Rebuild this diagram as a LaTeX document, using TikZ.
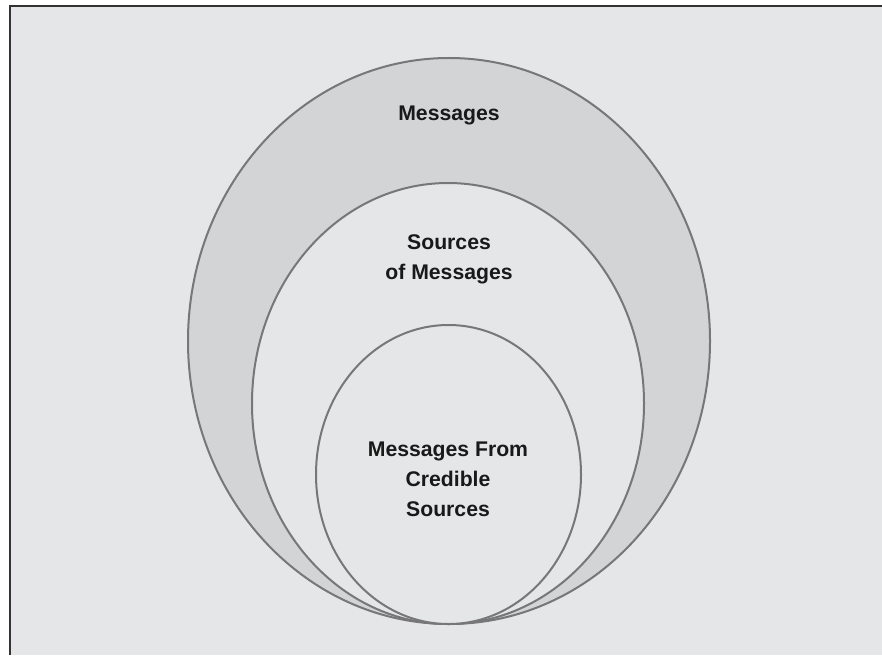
\documentclass[tikz,border=0pt]{standalone}
\usepackage{fontspec}
\setmainfont{Liberation Sans}
\definecolor{bg}{HTML}{E5E6E8}
\definecolor{ring}{HTML}{D3D4D6}
\definecolor{edge}{HTML}{777777}
\definecolor{frame}{HTML}{333333}
\tikzset{
  setring/.style={draw=edge, line width=2pt},
  lbl/.style={font=\bfseries\fontsize{21.2}{30}\selectfont, align=center, text=black!90, inner sep=0pt}
}
\begin{document}
\begin{tikzpicture}[x=1pt,y=-1pt]
\useasboundingbox (0,0) rectangle (882,655);
\fill[white] (0,0) rectangle (882,655);
\fill[bg] (9,6) rectangle (882,655);
\draw[frame, line width=2pt] (9.5,655) -- (9.5,6.5) -- (882,6.5);
% outer set
\path[setring, fill=ring] (449,341) ellipse [x radius=261, y radius=283];
% middle set
\path[setring, fill=bg] (448,403.5) ellipse [x radius=196, y radius=220.5];
% inner set
\path[setring, fill=bg] (448.5,474.5) ellipse [x radius=132.5, y radius=149.5];
\node[lbl] (msg) at (449,115.5) {Messages};
\node[lbl] (src) at (449,259.5) {Sources\\of Messages};
\node[lbl] (cred) at (448,479) {Messages From\\Credible\\Sources};
\end{tikzpicture}
\end{document}
